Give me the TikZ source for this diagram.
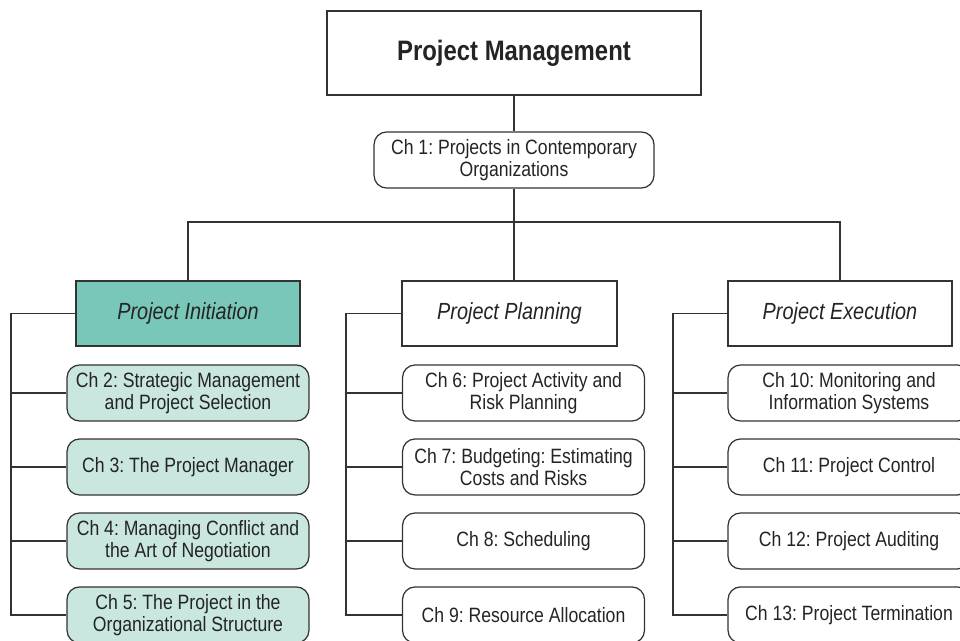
\documentclass[tikz,border=0pt]{standalone}
\usepackage{fontspec}
\setmainfont{Liberation Sans}[FakeStretch=0.85]
\usepackage{tikz}
\usetikzlibrary{
  calc,
  positioning}
\definecolor{inkgrey}{HTML}{333333}
\definecolor{tealdark}{HTML}{79C7B8}
\definecolor{teallight}{HTML}{C9E6DF}
\tikzstyle{rows} = [node distance = 14.8mm]
\tikzstyle{title} = [draw, minimum width=7.48cm, minimum height=1.68cm, font=\fontsize{16}{18}\selectfont\bfseries]
\tikzstyle{phase} = [draw, minimum height=1.3cm, font=\fontsize{13.3}{15}\selectfont\itshape]
\tikzstyle{chapter} = [draw, rounded corners=2.5mm, minimum width=4.84cm, minimum height=1.12cm, align=center, font=\fontsize{11.8}{12.4}\selectfont]
\tikzstyle{shaded} = [fill=teallight]

\begin{document}
\frenchspacing
\begin{tikzpicture}[ x=0.02cm, y=-0.02cm, line width=0.7pt, draw=inkgrey, every node/.style={draw=inkgrey, text=inkgrey!70!black} ]

\path[use as bounding box] (0,0) rectangle (960,641);
\clip (0,0) rectangle (960,641);

\node[title] (pm) at (514,53) {Project Management};
\node[chapter, minimum width=5.6cm] (ch1) at (514,160) {Ch 1: Projects in Contemporary\\Organizations};

% the three phases
\node[phase, minimum width=4.48cm, fill=tealdark] (ini) at (188,313.5) {Project Initiation};
\node[phase, minimum width=4.3cm] (pla) at (509.5,313.5) {Project Planning};
\node[phase, minimum width=4.48cm] (exe) at (840,313.5) {Project Execution};

\node[chapter,shaded] (c2) at (188,393) {Ch 2: Strategic Management\\and Project Selection};
\node[chapter,shaded,rows,below of=c2] (c3) {Ch 3: The Project Manager};
\node[chapter,shaded,rows,below of=c3] (c4) {Ch 4: Managing Conflict and\\the Art of Negotiation};
\node[chapter,shaded,rows,below of=c4] (c5) {Ch 5: The Project in the\\Organizational Structure};

\node[chapter] (c6) at (523.5,393) {Ch 6: Project Activity and\\Risk Planning};
\node[chapter,rows,below of=c6] (c7) {Ch 7: Budgeting: Estimating\\Costs and Risks};
\node[chapter,rows,below of=c7] (c8) {Ch 8: Scheduling};
\node[chapter,rows,below of=c8] (c9) {Ch 9: Resource Allocation};

\node[chapter] (c10) at (849,393) {Ch 10: Monitoring and\\Information Systems};
\node[chapter,rows,below of=c10] (c11) {Ch 11: Project Control};
\node[chapter,rows,below of=c11] (c12) {Ch 12: Project Auditing};
\node[chapter,rows,below of=c12] (c13) {Ch 13: Project Termination};

% tree lines
\coordinate (bus) at (514,222);
\draw (pm) -- (ch1);
\draw (ch1) -- (bus);
\draw (ini.north) |- (bus) -| (exe.north);
\draw (bus) -- (bus |- pla.north);

\coordinate (iniL) at (11,0);
\coordinate (plaL) at (346,0);
\coordinate (exeL) at (673,0);
\draw (ini.west) -- (iniL |- ini.west) -- (iniL |- c5.west) -- (c5.west);
\draw (pla.west) -- (plaL |- pla.west) -- (plaL |- c9.west) -- (c9.west);
\draw (exe.west) -- (exeL |- exe.west) -- (exeL |- c13.west) -- (c13.west);
\foreach \i in {2,3,4} \draw (c\i.west) -- (iniL |- c\i.west);
\foreach \i in {6,7,8} \draw (c\i.west) -- (plaL |- c\i.west);
\foreach \i in {10,11,12} \draw (c\i.west) -- (exeL |- c\i.west);

\end{tikzpicture}
\end{document}
